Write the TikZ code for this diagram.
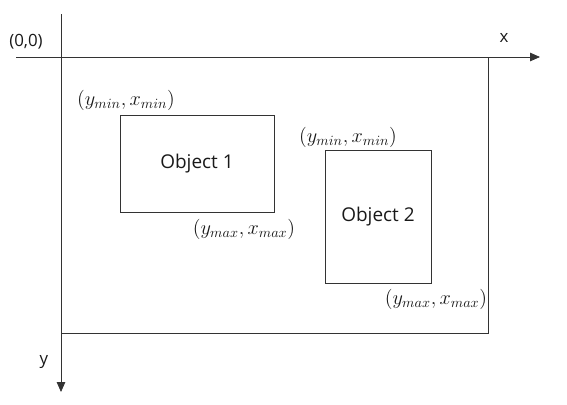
\documentclass[tikz,border=0pt]{standalone}
\usepackage{amsmath}
\usepackage{fontspec}
\setmainfont{Open Sans}
\usetikzlibrary{arrows.meta,positioning}

\tikzset{
  objbox/.style={draw,rectangle,inner sep=0pt,font=\fontsize{13.5}{16}\selectfont},
  corner/.style={font=\fontsize{14}{16}\selectfont},
  axis/.style={-{Triangle[length=7pt,width=6pt]}}
}

\begin{document}
\begin{tikzpicture}[x=0.025cm,y=-0.025cm,semithick,color=black!80,text=black!90,font=\fontsize{12}{14}\selectfont]
  \useasboundingbox (0,0) rectangle (567,404);

  % axes
  \coordinate (ytop) at (61,14);
  \coordinate (yend) at (61,392);
  \coordinate (xstart) at (16,57);
  \coordinate (xend) at (540,57);
  \draw[axis] (xstart) -- (xend);
  \draw[axis] (ytop) -- (yend);
  \node (orig) at (26,42) {(0,0)};
  \node (xlab) at (504,38) {x};
  \node (ylab) at (44,362) {y};

  % image frame
  \coordinate (fa) at (61,57);
  \coordinate (fb) at (488,333);
  \draw (fa) rectangle (fb);

  % objects
  \node[objbox,minimum width=3.85cm,minimum height=2.425cm] (ob1) at (197,163.5) {Object 1};
  \node[objbox,minimum width=2.65cm,minimum height=3.325cm] (ob2) at (378,216.5) {Object 2};

  \node[corner] (min1) at (126,100) {$(y_{min}, x_{min})$};
  \node[corner] (max1) at (244,229) {$(y_{max}, x_{max})$};
  \node[corner] (min2) at (348,137) {$(y_{min}, x_{min})$};
  \node[corner] (max2) at (436,299) {$(y_{max}, x_{max})$};
\end{tikzpicture}
\end{document}
